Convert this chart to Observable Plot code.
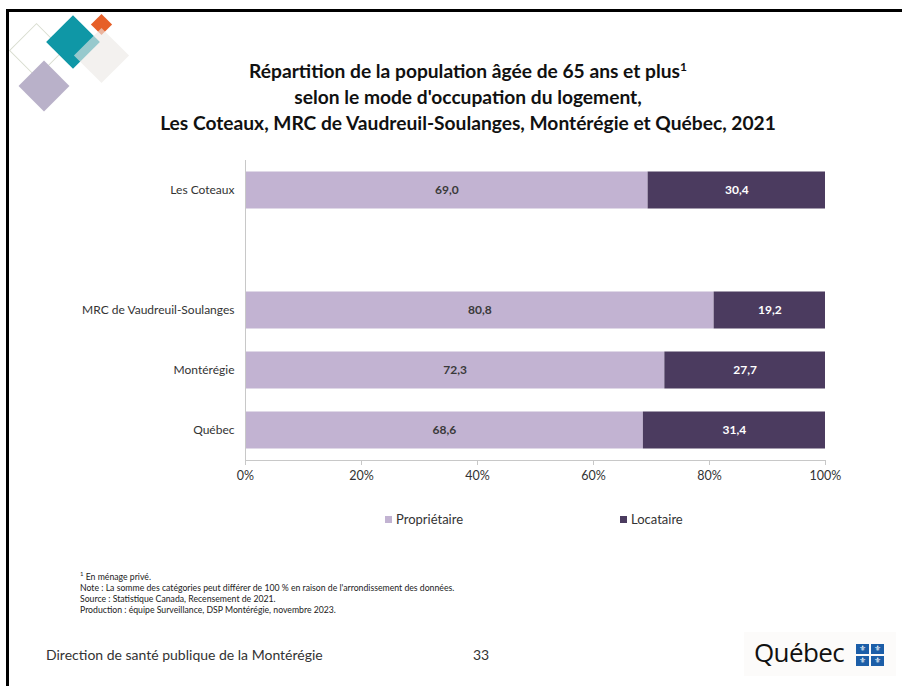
<!DOCTYPE html>
<html><head><meta charset="utf-8">
<script src="https://cdn.jsdelivr.net/npm/d3@7"></script>
<script src="https://cdn.jsdelivr.net/npm/@observablehq/plot@0.6"></script>
<style>
html,body{margin:0;padding:0;background:#fff;}
#page{position:relative;width:902px;height:686px;overflow:hidden;font-family:Lato,"Open Sans",sans-serif;color:#262626;}
.abs{position:absolute;}
.dia{position:absolute;transform:rotate(45deg);}
#title{left:0;width:936px;top:58px;text-align:center;font-weight:bold;font-size:19.2px;line-height:26px;color:#111;}
#title sup{font-size:12px;line-height:0;vertical-align:7px;}
#legend{top:511px;left:0;width:902px;height:20px;font-size:13px;color:#333;}
.lg{position:absolute;top:0;display:flex;align-items:center;gap:4px;}
.sw{width:7px;height:7px;display:inline-block;}
#notes{left:80px;top:568px;font-size:8.7px;line-height:11px;color:#222;}
#footer{left:46px;top:646px;font-size:14px;color:#333;}
#pnum{left:473px;top:646px;font-size:14px;color:#333;}
#qc{left:744px;top:632px;width:152px;height:44px;background:#fcfbfa;}
#qcword{position:absolute;left:10px;top:2px;font-family:"Open Sans","Noto Sans",sans-serif;font-size:26px;color:#111;letter-spacing:-0.6px;}
.fl{position:absolute;width:13px;height:10px;background:#1c5ea8;color:#fff;font-size:8px;line-height:10px;text-align:center;font-family:"DejaVu Sans",sans-serif;}
</style></head>
<body><div id="page">
  <!-- slide frame (left and top edges) -->
  <div class="abs" style="left:6px;top:9px;width:3px;height:677px;background:#000"></div>
  <div class="abs" style="left:6px;top:9px;width:896px;height:3px;background:#000"></div>
  <!-- decorative diamonds -->
  <div class="dia" style="left:17px;top:31px;width:37px;height:37px;border:1.5px solid #d9ddd0;"></div>
  <div class="dia" style="left:26px;top:68px;width:36px;height:36px;background:#b9b1c9;"></div>
  <div class="dia" style="left:54px;top:23px;width:38px;height:38px;background:#0f97a6;"></div>
  <div class="dia" style="left:94px;top:17px;width:15px;height:15px;background:#e65f28;"></div>
  <div class="dia" style="left:82px;top:36px;width:39px;height:39px;background:rgba(236,232,229,0.62);"></div>
  <div id="title" class="abs">Répartition de la population âgée de 65 ans et plus<sup>1</sup><br>selon le mode d'occupation du logement,<br>Les Coteaux, MRC de Vaudreuil-Soulanges, Montérégie et Québec, 2021</div>
  <div id="chart" class="abs" style="left:0;top:150px;"></div>
  <div id="legend" class="abs"></div>
  <div id="notes" class="abs"><sup style="font-size:6px">1</sup> En ménage privé.<br>Note : La somme des catégories peut différer de 100 % en raison de l'arrondissement des données.<br>Source : Statistique Canada, Recensement de 2021.<br>Production : équipe Surveillance, DSP Montérégie, novembre 2023.</div>
  <div id="footer" class="abs">Direction de santé publique de la Montérégie</div>
  <div id="pnum" class="abs">33</div>
  <div id="qc" class="abs">
    <div id="qcword">Québec</div>
    <div class="fl" style="left:112px;top:12px">⚜</div>
    <div class="fl" style="left:127px;top:12px">⚜</div>
    <div class="fl" style="left:112px;top:24px">⚜</div>
    <div class="fl" style="left:127px;top:24px">⚜</div>
  </div>
</div>
<script>
// ---- data ----
const regions = ["Les Coteaux", "MRC de Vaudreuil-Soulanges", "Montérégie", "Québec"];
const proprietaire = [69.0, 80.8, 72.3, 68.6];
const locataire = [30.4, 19.2, 27.7, 31.4];
const seriesNames = ["Propriétaire", "Locataire"];
const seriesColors = ["#c2b3d2", "#4b3b5f"];
const labelColors = ["#3a3a3a", "#ffffff"];
const xTicks = [0, 0.2, 0.4, 0.6, 0.8, 1];
const yDomain = [regions[0], " ", regions[1], regions[2], regions[3]];

const rows = [];
regions.forEach((r, i) => {
  rows.push({region: r, type: seriesNames[0], value: proprietaire[i]});
  rows.push({region: r, type: seriesNames[1], value: locataire[i]});
});
const fmt = v => v.toFixed(1).replace(".", ",");

const chart = Plot.plot({
  width: 902,
  height: 350,
  marginLeft: 245,
  marginRight: 77,
  marginTop: 10,
  marginBottom: 40,
  style: {fontFamily: "Lato, 'Open Sans', sans-serif", background: "transparent", color: "#333"},
  x: {domain: [0, 1], ticks: xTicks, tickFormat: d3.format(".0%"), label: null, tickSize: 5, tickPadding: 5},
  y: {domain: yDomain, padding: 0, label: null, tickSize: 0, tickPadding: 11},
  color: {domain: seriesNames, range: seriesColors},
  marks: [
    Plot.barX(rows, Plot.stackX({offset: "normalize", order: seriesNames, x: "value", y: "region", z: "type", fill: "type", insetTop: 11.5, insetBottom: 11.5})),
    Plot.text(rows, Plot.stackX({offset: "normalize", order: seriesNames, x: "value", y: "region", z: "type",
      text: d => fmt(d.value), fill: d => labelColors[seriesNames.indexOf(d.type)], fontWeight: "bold", fontSize: 12})),
    Plot.ruleX([0], {stroke: "#c8c8c8"}),
    Plot.frame({anchor: "bottom", stroke: "#c8c8c8"}),
    Plot.axisX({ticks: xTicks, tickFormat: d3.format(".0%"), tickSize: 5, tickPadding: 6, fontSize: 12.5, stroke: "#c8c8c8", color: "#333"}),
    Plot.axisY({tickSize: 0, tickPadding: 11, fontSize: 12, color: "#333"})
  ]
});
document.getElementById("chart").appendChild(chart);

// legend
const lg = document.getElementById("legend");
const lgX = [385, 620];
seriesNames.forEach((s, i) => {
  const el = document.createElement("div");
  el.className = "lg";
  el.style.left = lgX[i] + "px";
  el.innerHTML = `<span class="sw" style="background:${seriesColors[i]}"></span><span>${s}</span>`;
  lg.appendChild(el);
});
</script>
</body></html>
